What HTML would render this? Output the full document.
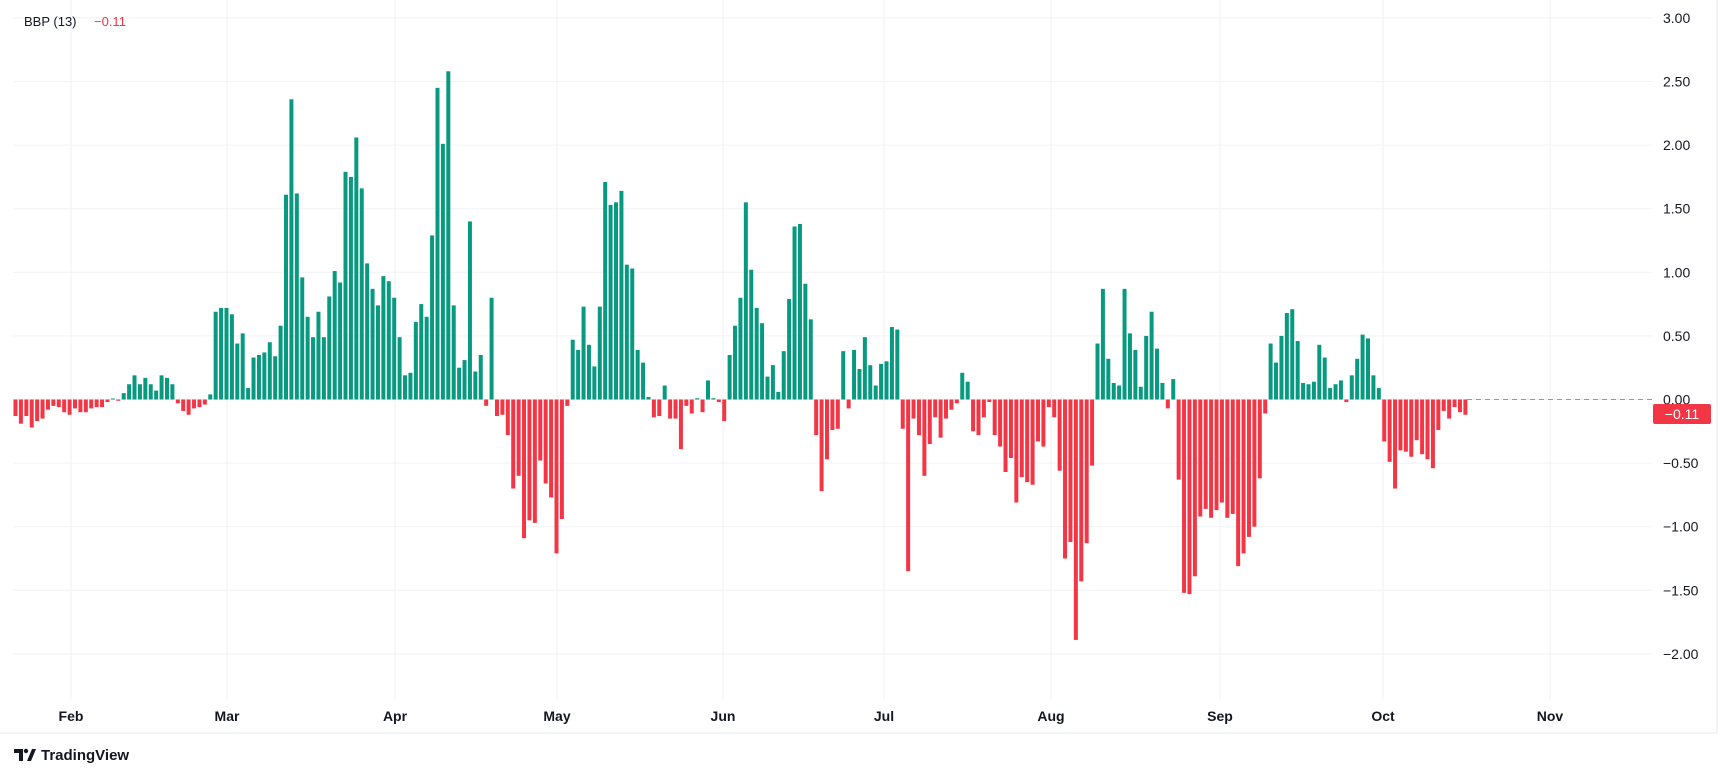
<!DOCTYPE html>
<html><head><meta charset="utf-8"><style>
html,body{margin:0;padding:0;background:#fff;}
body{width:1729px;height:776px;overflow:hidden;font-family:"Liberation Sans",sans-serif;}
</style></head><body>
<svg id="c" width="1729" height="776" xmlns="http://www.w3.org/2000/svg" style="position:absolute;left:0;top:0">
<rect x="0" y="0" width="1729" height="776" fill="#fff"/>
<line x1="1717" y1="0" x2="1717" y2="733" stroke="#e6e8ee" stroke-width="1"/>
<line x1="0" y1="733" x2="1717" y2="733" stroke="#e6e8ee" stroke-width="1"/>
<g id="grid" stroke="#f0f2f6" stroke-width="1"></g>
<g id="bars"></g>
<line x1="1467" y1="399.5" x2="1652" y2="399.5" stroke="#9598a1" stroke-width="1" stroke-dasharray="5,4"/>
<g id="ylab" font-size="14" fill="#131722" font-family="Liberation Sans, sans-serif"></g>
<rect x="1653" y="404" width="58" height="20" rx="2" fill="#F23645"/>
<text x="1682" y="419" font-size="14" fill="#fff" text-anchor="middle">−0.11</text>
<g id="xlab" font-size="14" font-weight="bold" fill="#131722" text-anchor="middle"></g>
<text x="24" y="26" font-size="13" fill="#131722">BBP (13)</text>
<text x="94" y="26" font-size="13" fill="#F23645">−0.11</text>
<g transform="translate(14,747)">
<path d="M0 2 H9 V14 H5 V6 H0 Z" fill="#131722"/>
<circle cx="12" cy="4" r="2.2" fill="#131722"/>
<path d="M13 14 L18 2 H22 L17 14 Z" fill="#131722"/>
<text x="27" y="13" font-size="15" font-weight="bold" fill="#131722">TradingView</text>
</g>
</svg>
<script>
var v=[-0.13,-0.19,-0.13,-0.22,-0.17,-0.15,-0.08,-0.05,-0.06,-0.1,-0.12,-0.07,-0.1,-0.1,-0.07,-0.06,-0.06,-0.02,0.0,-0.01,
0.05,0.12,0.19,0.12,0.17,0.12,0.07,0.19,0.17,0.12,
-0.03,-0.09,-0.12,-0.07,-0.06,-0.04,0.04,
0.69,0.72,0.72,0.67,0.44,0.52,0.09,0.33,0.35,0.37,0.45,0.34,0.58,1.61,2.36,1.62,0.96,0.65,0.49,0.69,0.49,0.81,1.01,0.92,1.79,1.75,2.06,
1.66,1.07,0.87,0.74,0.97,0.93,0.80,0.49,0.19,0.21,0.61,0.75,0.65,1.29,2.45,2.01,2.58,0.74,0.25,0.31,1.40,0.22,0.35,-0.05,0.80,-0.13,-0.12,-0.28,-0.70,-0.60,-1.09,-0.95,-0.97,-0.48,-0.66,-0.77,-1.21,-0.94,-0.05,0.47,0.39,0.73,0.43,0.26,0.73,1.71,1.53,1.55,1.64,1.06,1.03,0.39,0.29,0.02,-0.14,-0.13,0.11,-0.15,-0.15,-0.39,-0.05,-0.11,0.01,
-0.10,0.15,0.01,-0.02,-0.17,0.35,0.58,0.80,1.55,1.02,0.72,0.60,0.18,0.27,0.06,0.38,0.79,1.36,1.38,0.91,0.63,-0.28,-0.72,-0.47,-0.24,-0.23,0.38,-0.07,0.39,0.24,0.49,0.27,0.11,0.28,0.30,0.57,0.55,-0.23,-1.35,-0.15,-0.28,-0.60,-0.35,-0.14,-0.30,-0.15,-0.08,-0.03,0.21,0.14,-0.25,-0.28,-0.14,-0.02,-0.28,-0.37,-0.57,-0.46,-0.81,-0.61,-0.65,-0.67,-0.33,
-0.37,-0.06,-0.14,-0.56,-1.25,-1.12,-1.89,-1.43,-1.13,-0.52,0.44,0.87,0.32,0.13,0.11,0.87,0.52,0.39,0.10,0.50,0.69,0.40,0.13,-0.07,0.16,-0.63,-1.52,-1.53,-1.39,-0.92,-0.86,-0.93,-0.87,-0.81,-0.93,-0.90,-1.31,-1.21,-1.08,-1.00,-0.62,-0.11,0.44,0.29,0.50,0.68,0.71,0.46,0.13,0.12,0.14,0.43,0.33,0.09,0.12,0.15,-0.02,0.19,0.32,0.51,0.48,0.19,0.09,
-0.33,-0.49,-0.70,-0.40,-0.41,-0.45,-0.32,-0.43,-0.47,-0.54,-0.24,-0.09,-0.15,-0.06,-0.10,-0.12];
var NS="http://www.w3.org/2000/svg",z=399.5,k=127.2;
function el(p,t,a,txt){var e=document.createElementNS(NS,t);for(var n in a)e.setAttribute(n,a[n]);if(txt!=null)e.textContent=txt;document.getElementById(p).appendChild(e);}
for(var j=-4;j<=6;j++){var y=z-j*0.5*k;el("grid","line",{x1:13,y1:y,x2:1652,y2:y});
var s=(j<0?"−":"")+Math.abs(j*0.5).toFixed(2);el("ylab","text",{x:1663,y:y+5},s);}
var mx=[71,227,395,557,723,884,1051,1220,1383,1550],mn=["Feb","Mar","Apr","May","Jun","Jul","Aug","Sep","Oct","Nov"];
for(var i=0;i<mx.length;i++){el("grid","line",{x1:mx[i],y1:0,x2:mx[i],y2:700});el("xlab","text",{x:mx[i],y:721},mn[i]);}
for(var i=0;i<v.length;i++){var c=15.5+i*5.41,h=Math.abs(v[i])*k;if(h<1)h=1;
el("bars","rect",{x:(c-2).toFixed(2),y:(v[i]>=0?z-h:z).toFixed(2),width:4,height:h.toFixed(2),fill:v[i]>=0?"#089981":"#F23645"});}
</script>
</body></html>
